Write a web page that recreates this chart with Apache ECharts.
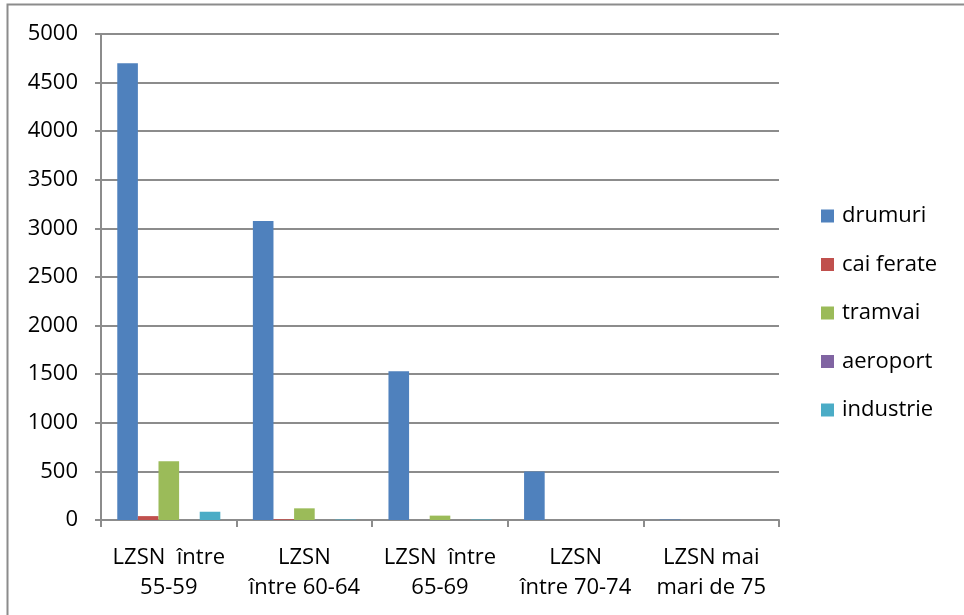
<!DOCTYPE html>
<html><head><meta charset="utf-8">
<style>html,body{margin:0;padding:0;background:#fff;}#c{width:964px;height:615px;}</style>
<script src="https://cdn.jsdelivr.net/npm/echarts@6/dist/echarts.min.js"></script>
</head><body><div id="c"></div>
<script>
const categories = ['LZSN  între\n55-59', 'LZSN\nîntre 60-64', 'LZSN  între\n65-69', 'LZSN\nîntre 70-74', 'LZSN mai\nmari de 75'];
const seriesNames = ['drumuri', 'cai ferate', 'tramvai', 'aeroport', 'industrie'];
const drumuri = [4700, 3075, 1530, 500, 5];
const caiFerate = [40, 8, 0, 0, 0];
const tramvai = [605, 120, 45, 0, 0];
const aeroport = [0, 0, 0, 0, 0];
const industrie = [85, 5, 5, 0, 0];
const yTicks = [0, 500, 1000, 1500, 2000, 2500, 3000, 3500, 4000, 4500, 5000];
const colors = ['#4f81bd', '#c0504d', '#9bbb59', '#8064a2', '#4bacc6'];
const values = [drumuri, caiFerate, tramvai, aeroport, industrie];

const font = '"Open Sans", sans-serif';
const chart = echarts.init(document.getElementById('c'), null, {renderer: 'canvas'});
chart.setOption({
  animation: false,
  color: colors,
  textStyle: {fontFamily: font},
  graphic: [
    {type: 'polyline', shape: {points: [[7.5, 615], [7.5, 4.5], [964, 4.5]]}, style: {stroke: '#8c8c8c', lineWidth: 2, fill: null}, silent: true}
  ],
  legend: {
    orient: 'vertical',
    left: 821,
    top: 202,
    padding: 0,
    itemWidth: 13,
    itemHeight: 13,
    itemGap: 20.5,
    icon: 'rect',
    textStyle: {fontSize: 22, color: '#000', fontFamily: font, lineHeight: 28, padding: [0, 0, 0, 3]},
    data: seriesNames
  },
  grid: {left: 101, right: 185, top: 34, bottom: 95, containLabel: false},
  xAxis: {
    type: 'category',
    data: categories,
    axisLine: {lineStyle: {color: '#8c8c8c', width: 2}},
    axisTick: {show: true, length: 7, lineStyle: {color: '#8c8c8c', width: 2}},
    axisLabel: {fontSize: 22, color: '#000', lineHeight: 30, margin: 23, fontFamily: font, interval: 0},
    splitLine: {show: false}
  },
  yAxis: {
    type: 'value',
    min: yTicks[0],
    max: yTicks[yTicks.length - 1],
    interval: 500,
    axisLine: {show: true, lineStyle: {color: '#8c8c8c', width: 2}},
    axisTick: {show: true, length: 6, lineStyle: {color: '#8c8c8c', width: 2}},
    axisLabel: {fontSize: 22, color: '#000', margin: 23, fontFamily: font, formatter: v => String(v)},
    splitLine: {show: true, lineStyle: {color: '#8c8c8c', width: 2}}
  },
  series: seriesNames.map((n, i) => ({
    name: n,
    type: 'bar',
    data: values[i],
    barGap: '0%',
    barCategoryGap: '24%',
    itemStyle: {color: colors[i]}
  }))
});
</script></body></html>
